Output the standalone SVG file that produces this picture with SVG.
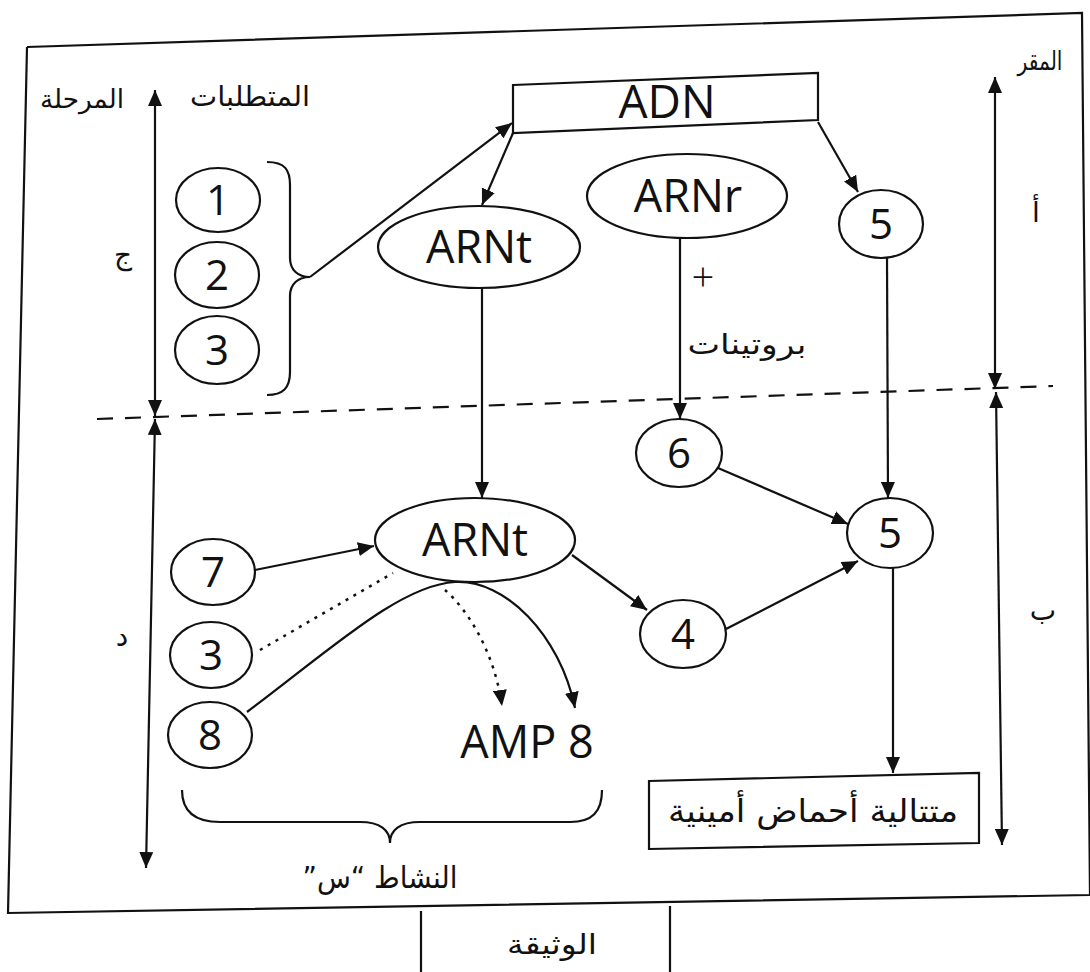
<svg xmlns="http://www.w3.org/2000/svg" width="1090" height="972" viewBox="0 0 1090 972">
<defs>
<marker id="ah" viewBox="0 0 16 14" refX="16" refY="7" markerWidth="16" markerHeight="14" markerUnits="userSpaceOnUse" orient="auto-start-reverse">
<path d="M0,0 L16,7 L0,14 z" fill="#111"/>
</marker>
<style>
.ln{stroke:#111;stroke-width:2.2;fill:none}
.arr{stroke:#111;stroke-width:2.2;fill:none;marker-end:url(#ah)}
.dbl{stroke:#111;stroke-width:2.2;fill:none;marker-start:url(#ah);marker-end:url(#ah)}
.dot{stroke:#111;stroke-width:2.5;fill:none;stroke-dasharray:3 6}
.nd{stroke:#111;stroke-width:2.2;fill:#fff}
.lat{font-family:"Open Sans","Liberation Sans",sans-serif;fill:#111;text-anchor:middle}
.ar{font-family:"DejaVu Sans","Noto Sans",sans-serif;fill:#111;text-anchor:middle;direction:rtl}
</style>
</defs>
<rect width="1090" height="972" fill="#fff"/>

<g id="frame">
<path class="ln" d="M27,47 L1082,13 L1090,895 M27,47 L8,913 L1090,895"/>
<path class="ln" d="M421,911 L421,972 M670,906 L670,972"/>
<text class="ar" x="552" y="954" font-size="28" textLength="90" lengthAdjust="spacingAndGlyphs">الوثيقة</text>
</g>

<g id="dashed-separator">
<path class="ln" d="M97,419 L1053,386" stroke-dasharray="16 12"/>
</g>

<g id="phase-axis">
<text class="ar" x="82" y="108" font-size="26" textLength="84" lengthAdjust="spacingAndGlyphs">المرحلة</text>
<text class="ar" x="250" y="106" font-size="28" textLength="120" lengthAdjust="spacingAndGlyphs">المتطلبات</text>
<text class="ar" x="123" y="264" font-size="28">ج</text>
<text class="ar" x="122" y="646" font-size="28">د</text>
</g>

<g id="site-axis">
<text class="ar" x="1040" y="70" font-size="26" textLength="45" lengthAdjust="spacingAndGlyphs">المقر</text>
<text class="ar" x="1036" y="222" font-size="28">أ</text>
<text class="ar" x="1043" y="620" font-size="28">ب</text>
</g>

<g id="connectors">
<path class="dbl" d="M155,90 L155,416"/>
<path class="dbl" d="M155,419 L146,868"/>
<path class="dbl" d="M995,77 L995,389"/>
<path class="dbl" d="M996,392 L1002,845"/>
<path class="ln" d="M267,162 C285,162 290,170 290,185 L290,258 C290,270 298,277 310,277 C298,277 290,284 290,296 L290,372 C290,388 283,395 267,395"/>
<path class="arr" d="M310,277 L512,123"/>
<path class="arr" d="M513,133 L482,205"/>
<path class="arr" d="M818,122 L858,192"/>
<path class="arr" d="M680,238 L680,419"/>
<path class="arr" d="M482,288 L482,498"/>
<path class="arr" d="M887,258 L888,498"/>
<path class="arr" d="M255,570 L374,546"/>
<path class="arr" d="M572,555 L647,610"/>
<path class="arr" d="M718,468 L848,524"/>
<path class="arr" d="M726,629 L858,561"/>
<path class="arr" d="M893,568 L893,773"/>
<path class="dot" d="M260,650 L393,573"/>
<path class="arr" d="M247,712 C330,650 400,585 455,582 C505,579 560,635 575,708"/>
<path class="dot" d="M445,590 C470,612 495,655 502,706" marker-end="url(#ah)"/>
<path class="ln" d="M182,790 C182,812 195,822 220,822 L360,822 C380,822 390,830 390,843 C390,830 400,822 420,822 L570,822 C592,822 602,812 602,790"/>
</g>

<g id="ADN">
<polygon class="nd" points="513,85 818,73 818,120 513,133"/>
<text class="lat" x="667" y="118" font-size="46">ADN</text>
</g>

<g id="ARNt-top">
<ellipse class="nd" cx="479" cy="247" rx="101" ry="41"/>
<text class="lat" x="479" y="263" font-size="45">ARNt</text>
</g>

<g id="ARNr">
<ellipse class="nd" cx="687" cy="196" rx="100" ry="42"/>
<text class="lat" x="688" y="212" font-size="45">ARNr</text>
</g>

<g id="n5-top">
<ellipse class="nd" cx="881" cy="224" rx="42" ry="34"/>
<text class="lat" x="881" y="239" font-size="42">5</text>
</g>

<g id="proteins-label">
<text class="lat" x="703" y="291" font-size="40" font-weight="300">+</text>
<text class="ar" x="747" y="354" font-size="28" textLength="119" lengthAdjust="spacingAndGlyphs">بروتينات</text>
</g>

<g id="n1">
<ellipse class="nd" cx="218" cy="200" rx="42" ry="32"/>
<text class="lat" x="218" y="215" font-size="42">1</text>
</g>
<g id="n2">
<ellipse class="nd" cx="217" cy="275" rx="42" ry="33"/>
<text class="lat" x="217" y="290" font-size="42">2</text>
</g>
<g id="n3-top">
<ellipse class="nd" cx="217" cy="350" rx="42" ry="34"/>
<text class="lat" x="217" y="365" font-size="42">3</text>
</g>

<g id="n6">
<ellipse class="nd" cx="679" cy="453" rx="43" ry="34"/>
<text class="lat" x="679" y="468" font-size="42">6</text>
</g>

<g id="n5-bottom">
<ellipse class="nd" cx="890" cy="533" rx="43" ry="35"/>
<text class="lat" x="890" y="548" font-size="42">5</text>
</g>

<g id="ARNt-bottom">
<ellipse class="nd" cx="475" cy="540" rx="100" ry="42"/>
<text class="lat" x="475" y="556" font-size="45">ARNt</text>
</g>

<g id="n7">
<ellipse class="nd" cx="213" cy="572" rx="42" ry="33"/>
<text class="lat" x="213" y="587" font-size="42">7</text>
</g>
<g id="n3-bottom">
<ellipse class="nd" cx="211" cy="655" rx="41" ry="33"/>
<text class="lat" x="211" y="670" font-size="42">3</text>
</g>
<g id="n8">
<ellipse class="nd" cx="210" cy="735" rx="42" ry="33"/>
<text class="lat" x="210" y="750" font-size="42">8</text>
</g>

<g id="n4">
<ellipse class="nd" cx="683" cy="634" rx="43" ry="34"/>
<text class="lat" x="683" y="649" font-size="42">4</text>
</g>

<g id="AMP8">
<text class="lat" x="527" y="758" font-size="45">AMP 8</text>
</g>

<g id="amino-acids">
<polygon class="nd" points="649,781 979,773 979,843 649,849"/>
<text class="ar" x="813" y="822" font-size="32" textLength="290" lengthAdjust="spacingAndGlyphs">متتالية أحماض أمينية</text>
</g>

<g id="activity-label">
<text class="ar" x="380" y="888" font-size="30" textLength="155" lengthAdjust="spacingAndGlyphs">النشاط “س”</text>
</g>
</svg>
